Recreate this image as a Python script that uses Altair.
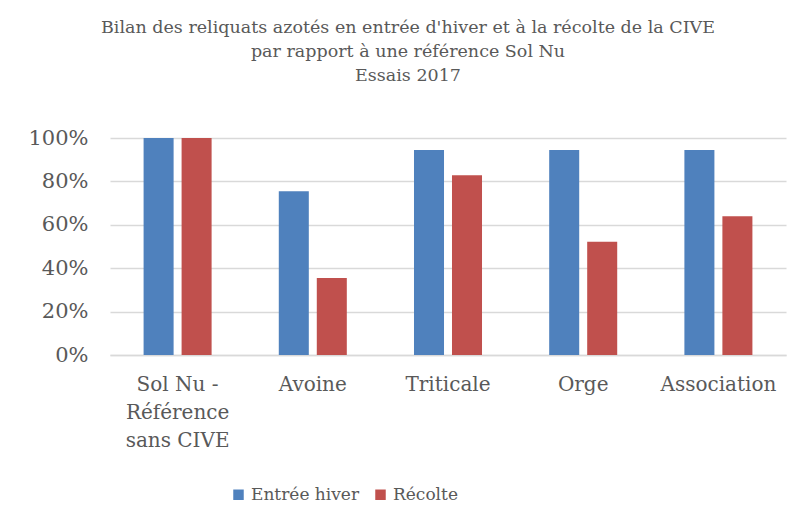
import altair as alt
import pandas as pd

categories = ["Sol Nu -|Référence|sans CIVE", "Avoine", "Triticale", "Orge", "Association"]
series = ["Entrée hiver", "Récolte"]
entree_hiver = [1.00, 0.755, 0.945, 0.945, 0.945]
recolte = [1.00, 0.355, 0.828, 0.522, 0.639]
colors = ["#4F81BD", "#C0504D"]

rows = []
for c, a, b in zip(categories, entree_hiver, recolte):
    rows.append({"cat": c, "serie": series[0], "val": a})
    rows.append({"cat": c, "serie": series[1], "val": b})
df = pd.DataFrame(rows)

FONT = "DejaVu Serif"

chart = alt.Chart(df).mark_bar().encode(
    x=alt.X("cat:N", sort=categories, title=None,
            scale=alt.Scale(paddingInner=0, paddingOuter=0),
            axis=alt.Axis(labelAngle=0, labelExpr="split(datum.label, '|')",
                          labelFontSize=20, labelColor="#595959", labelFont=FONT,
                          labelPadding=19, labelLineHeight=28, ticks=False,
                          domainColor="#D9D9D9", domainWidth=1.5, grid=False,
                          labelBaseline="top")),
    xOffset=alt.XOffset("serie:N", sort=series,
                        scale=alt.Scale(paddingInner=0.21, paddingOuter=0.884)),
    y=alt.Y("val:Q", title=None,
            scale=alt.Scale(domain=[0, 1], nice=False),
            axis=alt.Axis(format="%", values=[0, 0.2, 0.4, 0.6, 0.8, 1.0],
                          labelFontSize=21, labelColor="#595959", labelFont=FONT,
                          labelPadding=22, ticks=False, domain=False,
                          gridColor="#D9D9D9", gridWidth=1.5)),
    color=alt.Color("serie:N", sort=series,
                    scale=alt.Scale(domain=series, range=colors),
                    legend=alt.Legend(title=None, orient="none", direction="horizontal",
                                      legendX=120, legendY=348,
                                      symbolType="square", symbolSize=110,
                                      symbolStrokeWidth=0,
                                      labelFontSize=17, labelFont=FONT,
                                      labelColor="#595959", columnPadding=12,
                                      labelOffset=4)),
).properties(
    width=676,
    height=217,
    title=alt.TitleParams(
        text=["Bilan des reliquats azotés en entrée d'hiver et à la récolte de la CIVE",
              "par rapport à une référence Sol Nu",
              "Essais 2017"],
        font=FONT, fontSize=17.5, fontWeight="normal", color="#595959",
        anchor="middle", dx=-40, offset=43, lineHeight=24,
    ),
    autosize=alt.AutoSizeParams(type="none"),
    padding={"left": 102, "top": 130, "right": 9, "bottom": 160},
).configure_view(stroke=None)

chart.save("out.html", embed_options={"renderer": "svg", "actions": False})
